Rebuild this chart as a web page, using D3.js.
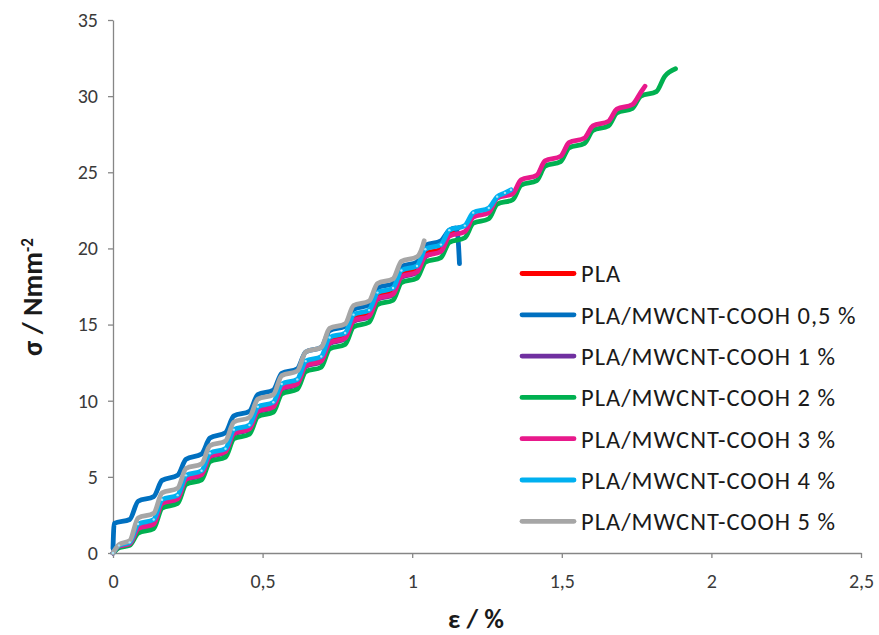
<!DOCTYPE html>
<html>
<head>
<meta charset="utf-8">
<script src="https://cdn.jsdelivr.net/npm/d3@7"></script>
<style>
  html, body { margin: 0; padding: 0; background: #fff; }
  svg { display: block; }
  text { font-family: Carlito, Lato, "Open Sans", sans-serif; }
</style>
</head>
<body>
<svg id="chart" width="879" height="635"></svg>
<script>
// ---- data ----
const xTicks = [0, 0.5, 1, 1.5, 2, 2.5];
const yTicks = [0, 5, 10, 15, 20, 25, 30, 35];
const seriesNames = [
  "PLA",
  "PLA/MWCNT-COOH 0,5 %",
  "PLA/MWCNT-COOH 1 %",
  "PLA/MWCNT-COOH 2 %",
  "PLA/MWCNT-COOH 3 %",
  "PLA/MWCNT-COOH 4 %",
  "PLA/MWCNT-COOH 5 %"
];
const seriesColors = ["#FF0000", "#0070C0", "#7030A0", "#00B050", "#E8198B", "#00B0F0", "#A6A6A6"];

const pla = [[0,0],[0.02,0.5],[0.056,0.7],[0.084,1.8],[0.136,2.1],[0.164,3.4],[0.216,3.7],[0.244,4.95],
  [0.296,5.25],[0.324,6.45],[0.376,6.75],[0.404,7.95],[0.456,8.25],[0.484,9.45],[0.536,9.75],[0.564,10.9],
  [0.616,11.2],[0.644,12.4],[0.696,12.7],[0.724,14.0],[0.776,14.3],[0.804,15.45],[0.856,15.75],[0.884,16.9],
  [0.936,17.2],[0.964,18.3],[1.016,18.6],[1.044,19.65],[1.096,19.95],[1.124,20.9],[1.155,21.35]];
const cnt05 = [[0,0.3],[0.004,1.95],[0.056,2.2],[0.084,3.4],[0.136,3.7],[0.164,4.77],[0.216,5.1],[0.244,6.15],
  [0.296,6.5],[0.324,7.55],[0.376,7.9],[0.404,9.0],[0.456,9.3],[0.484,10.4],[0.536,10.7],[0.564,11.8],
  [0.616,12.1],[0.644,13.2],[0.696,13.5],[0.724,14.6],[0.776,14.9],[0.804,16.0],[0.856,16.3],[0.884,17.4],
  [0.936,17.7],[0.964,18.8],[1.016,19.1],[1.044,20.2],[1.096,20.5],[1.124,21.2],[1.145,21.35],[1.152,20.9],[1.158,19.0]];
const cnt1 = [[0,0],[0.02,0.4],[0.056,0.55],[0.084,1.55],[0.136,1.85],[0.164,3.2],[0.216,3.5],[0.244,4.8],
  [0.296,5.1],[0.324,6.3],[0.376,6.6],[0.404,7.8],[0.456,8.1],[0.484,9.25],[0.536,9.55],[0.564,10.75],
  [0.616,11.05],[0.644,12.25],[0.696,12.55],[0.724,13.75],[0.776,14.05],[0.804,15.2],[0.856,15.5],[0.884,16.65],
  [0.936,16.95],[0.964,18.1],[1.016,18.4],[1.044,19.45],[1.06,19.6]];
const cnt2 = [[0,0],[0.02,0.35],[0.056,0.5],[0.084,1.3],[0.136,1.6],[0.164,2.95],[0.216,3.25],[0.244,4.5],
  [0.296,4.8],[0.324,6.0],[0.376,6.3],[0.404,7.5],[0.456,7.8],[0.484,8.95],[0.536,9.25],[0.564,10.45],
  [0.616,10.75],[0.644,11.9],[0.696,12.2],[0.724,13.4],[0.776,13.7],[0.804,14.85],[0.856,15.15],[0.884,16.3],
  [0.936,16.6],[0.964,17.75],[1.016,18.05],[1.044,19.1],[1.096,19.4],[1.124,20.4],[1.176,20.7],[1.204,21.65],
  [1.256,21.95],[1.284,22.9],[1.336,23.2],[1.364,24.15],[1.416,24.45],[1.444,25.4],[1.496,25.7],[1.524,26.6],
  [1.576,26.9],[1.604,27.75],[1.656,28.05],[1.684,28.9],[1.736,29.2],[1.764,30.0],[1.816,30.3],[1.844,31.3],[1.88,31.8]];
const cnt3 = [[0,0],[0.02,0.45],[0.056,0.6],[0.084,1.6],[0.136,1.9],[0.164,3.25],[0.216,3.55],[0.244,4.85],
  [0.296,5.15],[0.324,6.35],[0.376,6.65],[0.404,7.85],[0.456,8.15],[0.484,9.3],[0.536,9.6],[0.564,10.8],
  [0.616,11.1],[0.644,12.3],[0.696,12.6],[0.724,13.8],[0.776,14.1],[0.804,15.25],[0.856,15.55],[0.884,16.7],
  [0.936,17.0],[0.964,18.15],[1.016,18.45],[1.044,19.5],[1.096,19.8],[1.124,20.8],[1.176,21.1],[1.204,22.05],
  [1.256,22.35],[1.284,23.3],[1.336,23.6],[1.364,24.5],[1.416,24.8],[1.444,25.75],[1.496,26.05],[1.524,26.95],
  [1.576,27.25],[1.604,28.05],[1.656,28.35],[1.684,29.15],[1.736,29.45],[1.764,30.25],[1.778,30.65]];
const cnt4 = [[0,0],[0.02,0.5],[0.056,0.7],[0.084,1.9],[0.136,2.2],[0.164,3.5],[0.216,3.8],[0.244,5.1],
  [0.296,5.4],[0.324,6.55],[0.376,6.85],[0.404,8.1],[0.456,8.4],[0.484,9.6],[0.536,9.9],[0.564,11.1],
  [0.616,11.4],[0.644,12.6],[0.696,12.9],[0.724,14.15],[0.776,14.45],[0.804,15.65],[0.856,15.95],[0.884,17.1],
  [0.936,17.4],[0.964,18.55],[1.016,18.85],[1.044,19.95],[1.096,20.25],[1.124,21.2],[1.176,21.5],[1.204,22.35],
  [1.256,22.65],[1.284,23.4],[1.31,23.65],[1.33,23.85]];
const cnt5 = [[0,0],[0.02,0.55],[0.056,0.8],[0.084,2.3],[0.136,2.6],[0.164,3.95],[0.216,4.25],[0.244,5.55],
  [0.296,5.85],[0.324,7.05],[0.376,7.35],[0.404,8.6],[0.456,8.9],[0.484,10.1],[0.536,10.4],[0.564,11.65],
  [0.616,11.95],[0.644,13.2],[0.696,13.5],[0.724,14.75],[0.776,15.05],[0.804,16.25],[0.856,16.55],[0.884,17.7],
  [0.936,18.0],[0.964,19.15],[1.016,19.45],[1.034,20.1],[1.04,20.5]];
const seriesData = [pla, cnt05, cnt1, cnt2, cnt3, cnt4, cnt5];

// ---- layout ----
const svg = d3.select("#chart");
const x = d3.scaleLinear().domain([0, 2.5]).range([113, 861]);
const y = d3.scaleLinear().domain([0, 35]).range([553, 20]);
const axisColor = "#868686";
const labelColor = "#3a3a3a";
const fmt = d => String(d).replace(".", ",");

const gx = svg.append("g").attr("transform", `translate(0,${y(0)})`)
  .call(d3.axisBottom(x).tickValues(xTicks).tickFormat(fmt).tickSizeInner(5).tickSizeOuter(0).tickPadding(16));
const gy = svg.append("g").attr("transform", `translate(${x(0)},0)`)
  .call(d3.axisLeft(y).tickValues(yTicks).tickSizeInner(5).tickSizeOuter(0).tickPadding(10));
[gx, gy].forEach(g => {
  g.select(".domain").attr("stroke", axisColor).attr("stroke-width", 1.3);
  g.selectAll(".tick line").attr("stroke", axisColor).attr("stroke-width", 1.3);
  g.selectAll(".tick text").attr("fill", labelColor).style("font-size", "20px")
    .style("font-family", "Carlito, Lato, 'Open Sans', sans-serif");
});

// ---- lines ----
const line = d3.line().x(d => x(d[0])).y(d => y(d[1])).curve(d3.curveMonotoneX);
const plot = svg.append("g");
seriesData.forEach((data, i) => {
  plot.append("path").datum(data)
    .attr("fill", "none")
    .attr("stroke", seriesColors[i])
    .attr("stroke-width", 4.8)
    .attr("stroke-linejoin", "round")
    .attr("stroke-linecap", "round")
    .attr("d", line);
});
// small markers on the 4 % series
plot.selectAll("circle.m4").data(cnt4).enter().append("circle")
  .attr("cx", d => x(d[0])).attr("cy", d => y(d[1])).attr("r", 1.2)
  .attr("fill", "#a9e3f8");

// ---- legend ----
const legend = svg.append("g");
seriesNames.forEach((name, i) => {
  const ly = 273.5 + i * 41.3;
  legend.append("line").attr("x1", 522).attr("x2", 574).attr("y1", ly).attr("y2", ly)
    .attr("stroke", seriesColors[i]).attr("stroke-width", 4.8).attr("stroke-linecap", "round");
  legend.append("text").attr("x", 581).attr("y", ly).attr("dy", "0.36em")
    .attr("fill", "#1a1a1a").style("font-size", "24.5px").style("letter-spacing", "1px").text(name);
});

// ---- axis titles ----
svg.append("text").attr("x", 476).attr("y", 628).attr("text-anchor", "middle")
  .style("font-size", "27px").style("font-weight", "bold").attr("fill", "#1a1a1a").text("ε / %");
const yt = svg.append("text").attr("transform", "translate(42,297) rotate(-90)")
  .attr("text-anchor", "middle").style("font-size", "28px").style("font-weight", "bold").attr("fill", "#1a1a1a");
yt.append("tspan").text("σ / Nmm");
yt.append("tspan").attr("dy", "-0.55em").style("font-size", "17px").text("-2");
</script>
</body>
</html>
